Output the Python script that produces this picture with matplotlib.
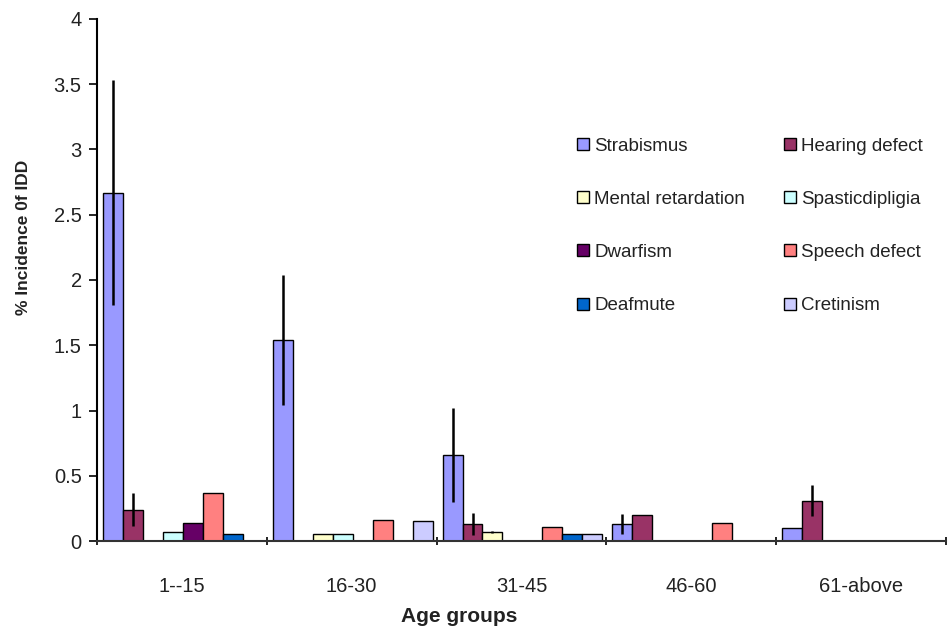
import numpy as np
import matplotlib.pyplot as plt

plt.rcParams['font.family'] = ['Liberation Sans', 'DejaVu Sans']

# ---- data ----
age_groups = ["1--15", "16-30", "31-45", "46-60", "61-above"]
conditions = ["Strabismus", "Hearing defect", "Mental retardation", "Spasticdipligia",
              "Dwarfism", "Speech defect", "Deafmute", "Cretinism"]
colors = ["#9999FF", "#993366", "#FFFFCC", "#CCFFFF",
          "#660066", "#FF8080", "#0066CC", "#CCCCFF"]

strabismus  = [2.67, 1.54, 0.66, 0.13, 0.10]
hearing     = [0.24, 0.00, 0.13, 0.20, 0.31]
mental      = [0.00, 0.05, 0.07, 0.00, 0.00]
spastic     = [0.07, 0.05, 0.00, 0.00, 0.00]
dwarfism    = [0.14, 0.00, 0.00, 0.00, 0.00]
speech      = [0.37, 0.16, 0.11, 0.14, 0.00]
deafmute    = [0.05, 0.00, 0.05, 0.00, 0.00]
cretinism   = [0.00, 0.15, 0.05, 0.00, 0.00]

strabismus_err = [0.86, 0.50, 0.36, 0.08, 0.00]
hearing_err    = [0.125, 0.00, 0.085, 0.00, 0.12]
mental_err     = [0.00, 0.00, 0.01, 0.00, 0.00]

series = [strabismus, hearing, mental, spastic, dwarfism, speech, deafmute, cretinism]
errors = {0: strabismus_err, 1: hearing_err, 2: mental_err}
# --------------

fig = plt.figure(figsize=(9.48, 6.29), dpi=100)
ax = fig.add_axes([0.1023, 0.1399, 0.8955, 0.8299])

n = len(series)
bw = 1.0 / (n + 0.5)
x = np.arange(len(age_groups))
for i, (vals, name, col) in enumerate(zip(series, conditions, colors)):
    pos = x - 0.5 + bw * 0.3 + bw * (i + 0.5)
    ax.bar(pos, vals, width=bw, color=col, edgecolor="black", linewidth=1.0,
           label=name, zorder=2)
    if i in errors:
        err = np.array(errors[i])
        keep = err > 0
        ax.errorbar(pos[keep], np.array(vals)[keep], yerr=err[keep], fmt="none",
                    ecolor="black", elinewidth=1.8, capsize=0, zorder=3)

ax.set_xlim(-0.5, len(age_groups) - 0.5)
ax.set_ylim(0, 4)
ax.set_yticks(np.arange(0, 4.01, 0.5))
ax.set_yticklabels(["0", "0.5", "1", "1.5", "2", "2.5", "3", "3.5", "4"])
ax.set_xticks(np.arange(-0.5, len(age_groups), 1.0))
ax.set_xticklabels([])
ax.set_xticks(x, minor=True)
ax.set_xticklabels(age_groups, minor=True)
ax.tick_params(axis="x", which="minor", length=0, pad=26, labelsize=14.5,
               labelcolor="#222222")
ax.tick_params(axis="x", which="major", length=6, width=1.2, direction="inout")
ax.tick_params(axis="y", length=6, width=1.2, direction="out", labelsize=14.5,
               pad=5, labelcolor="#222222")

for s in ["top", "right"]:
    ax.spines[s].set_visible(False)
ax.spines["left"].set_linewidth(1.5)
ax.spines["bottom"].set_linewidth(1.5)
ax.spines["bottom"].set_color("#333333")

fig.text(0.484, 0.004, "Age groups", ha="center", va="bottom",
         fontsize=15, fontweight="bold", color="#222222")
fig.text(0.025, 0.623, "% Incidence 0f IDD", ha="center", va="center",
         rotation=90, fontsize=12.5, fontweight="bold", color="#222222")

# legend reads across rows, two entries per row
handles, labels = ax.get_legend_handles_labels()
order = [0, 2, 4, 6, 1, 3, 5, 7]
ax.legend([handles[k] for k in order], [labels[k] for k in order],
          ncol=2, loc="upper left", bbox_to_anchor=(0.546, 0.805),
          frameon=False, fontsize=13.5, handlelength=0.6, handleheight=0.6,
          handletextpad=0.3, columnspacing=2.1, labelspacing=1.93,
          labelcolor="#222222")

fig.savefig("out.png", dpi=100)
